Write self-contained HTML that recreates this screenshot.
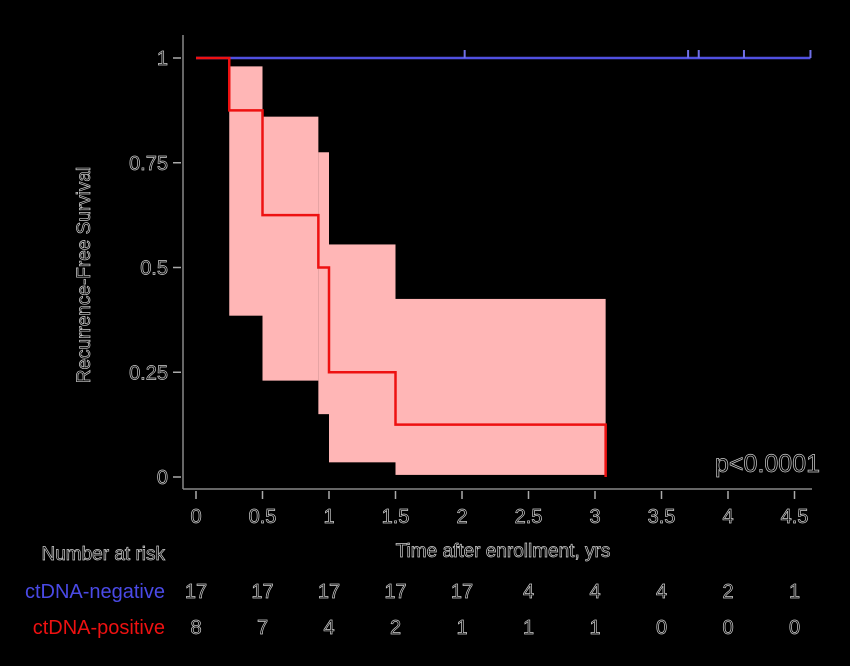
<!DOCTYPE html>
<html><head><meta charset="utf-8"><style>
html,body{margin:0;padding:0;background:#000;}
svg{display:block;font-family:"Liberation Sans",sans-serif;}
.t{fill:#000;stroke:#cfcfcf;stroke-width:0.7;}
</style></head><body>
<svg id="chart" width="850" height="666" viewBox="0 0 850 666">
<rect width="850" height="666" fill="#000"/>
<g id="plot"></g>
</svg>
<script>
const xTicks=[0,0.5,1,1.5,2,2.5,3,3.5,4,4.5];
const xTickLabels=["0","0.5","1","1.5","2","2.5","3","3.5","4","4.5"];
const yTicks=[0,0.25,0.5,0.75,1];
const yTickLabels=["0","0.25","0.5","0.75","1"];
const posTimes=[0,0.25,0.5,0.92,1.0,1.5,3.08];
const posSurv=[1,0.875,0.625,0.5,0.25,0.125,0];
const ciStart=[0.25,0.5,0.92,1.0,1.5];
const ciEnd=[0.5,0.92,1.0,1.5,3.08];
const ciUpper=[0.98,0.86,0.775,0.555,0.425];
const ciLower=[0.385,0.23,0.15,0.035,0.005];
const negEnd=4.62;
const negCensor=[2.02,3.70,3.78,4.12,4.62];
const riskNeg=[17,17,17,17,17,4,4,4,2,1];
const riskPos=[8,7,4,2,1,1,1,0,0,0];

const X=v=>196+v*133;
const Y=v=>477-v*419;
const NS="http://www.w3.org/2000/svg";
const g=document.getElementById('plot');
function mk(tag,attrs,parent){const e=document.createElementNS(NS,tag);for(const k in attrs)e.setAttribute(k,attrs[k]);(parent||g).appendChild(e);return e;}

// CI bands
ciStart.forEach((s,i)=>{
 const r=mk('rect',{x:X(s),y:Y(ciUpper[i]),width:X(ciEnd[i])-X(s),height:Y(ciLower[i])-Y(ciUpper[i]),fill:'#ffb6b6'});
 
 
});
// blue line
const bl=mk('path',{d:`M${X(0)},${Y(1)}H${X(negEnd)}`,stroke:'#5050e0',fill:'none','stroke-width':2.5});


negCensor.forEach((c,i)=>{
 const t=mk('line',{x1:X(c),x2:X(c),y1:Y(1)-8,y2:Y(1),stroke:'#7070e8','stroke-width':2});
 
 
});
// red step
let d=`M${X(posTimes[0])},${Y(posSurv[0])}`;
for(let i=1;i<posTimes.length;i++){d+=`H${X(posTimes[i])}V${Y(posSurv[i])}`;}
const rl=mk('path',{d:d,stroke:'#ee1111',fill:'none','stroke-width':2.5});



// axes
const ya=mk('line',{x1:183,x2:183,y1:35,y2:489,stroke:'#888','stroke-width':1.5});


const xa=mk('line',{x1:183,x2:812,y1:489,y2:489,stroke:'#888','stroke-width':1.5});


yTicks.forEach((v,i)=>{
 mk('line',{x1:173,x2:181,y1:Y(v),y2:Y(v),stroke:'#aaa','stroke-width':1.5});
 const t=mk('text',{x:168,y:Y(v)+7,'text-anchor':'end','font-size':20,class:'t'});
 t.textContent=yTickLabels[i];
 
 
});
xTicks.forEach((v,i)=>{
 mk('line',{x1:X(v),x2:X(v),y1:491,y2:499,stroke:'#aaa','stroke-width':1.5});
 const t=mk('text',{x:X(v),y:523,'text-anchor':'middle','font-size':20,class:'t'});
 t.textContent=xTickLabels[i];
 
 
 const a=mk('text',{x:X(v),y:598,'text-anchor':'middle','font-size':20,class:'t'});
 a.textContent=riskNeg[i];
 
 
 const b=mk('text',{x:X(v),y:634,'text-anchor':'middle','font-size':20,class:'t'});
 b.textContent=riskPos[i];
 
 
});
</script>
<svg style="position:absolute;left:0;top:0" width="850" height="666">
<text class="t" x="90" y="275" font-size="19" text-anchor="middle" transform="rotate(-90 90 275)" font-family="Liberation Sans">Recurrence-Free Survival</text>
<text class="t" x="503" y="557" font-size="19" text-anchor="middle" font-family="Liberation Sans">Time after enrollment, yrs</text>
<text class="t" x="165" y="560" font-size="19" text-anchor="end" font-family="Liberation Sans">Number at risk</text>
<text x="165" y="598" font-size="20" text-anchor="end" fill="#4a4ae6" font-family="Liberation Sans">ctDNA-negative</text>
<text x="165" y="634" font-size="20" text-anchor="end" fill="#ee1111" font-family="Liberation Sans">ctDNA-positive</text>
<text class="t" x="820" y="472" font-size="25" text-anchor="end" font-family="Liberation Sans">p&lt;0.0001</text>
</svg>
</body></html>
